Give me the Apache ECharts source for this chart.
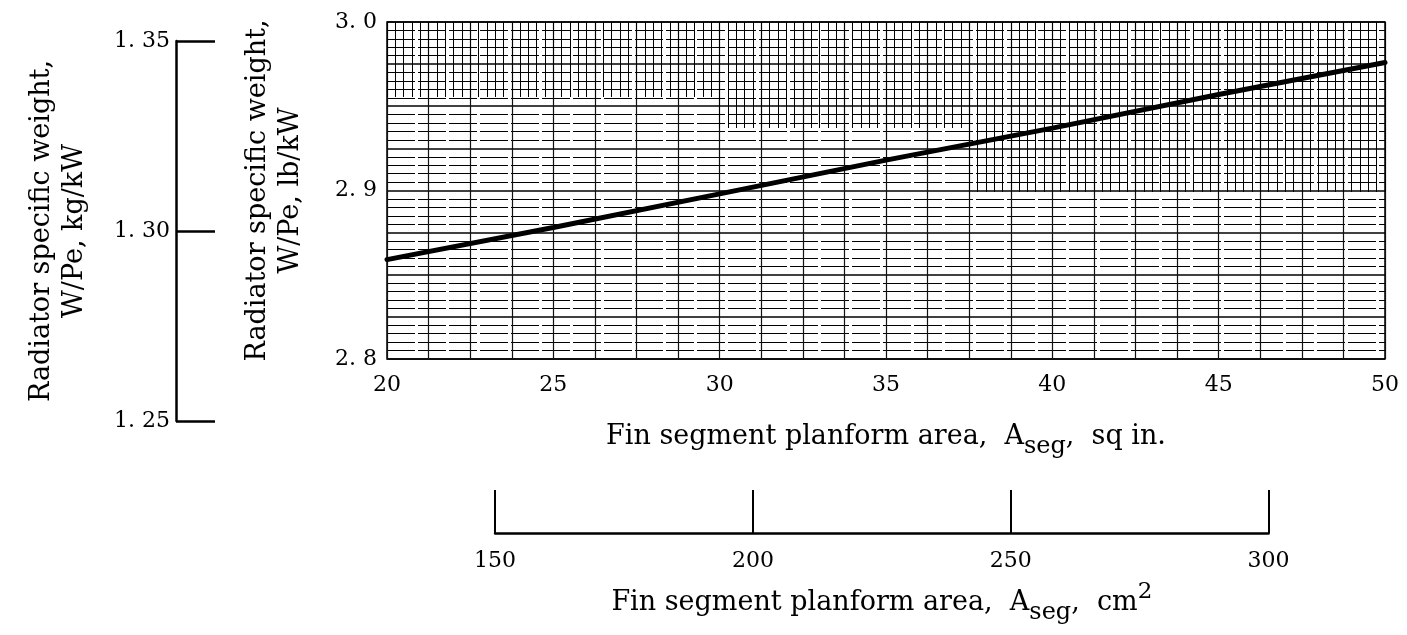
<!DOCTYPE html>
<html>
<head>
<meta charset="utf-8">
<script src="https://cdn.jsdelivr.net/npm/echarts@6/dist/echarts.min.js"></script>
<style>
  html, body { margin: 0; padding: 0; background: #fff; }
  #chart { width: 1407px; height: 635px; }
</style>
</head>
<body>
<div id="chart"></div>
<script>
// Fin segment planform area (sq in.) vs radiator specific weight (lb/kW)
const sqIn = [20, 25, 30, 35, 40, 45, 50];
const lbPerKw = [2.859, 2.878, 2.898, 2.918, 2.937, 2.957, 2.976];

// Tick labels
const sqInTicks = [20, 25, 30, 35, 40, 45, 50];
const lbTicks = [2.8, 2.9, 3.0];
const kgTicks = [1.25, 1.30, 1.35];
const cm2Ticks = [150, 200, 250, 300];

const FONT = 'DejaVu Serif';
const INK = '#000';
const CM2_PER_SQIN = 6.4516;

// plot box of the main graph-paper area
const PLOT = { left: 387, top: 22, width: 998, height: 337 };
const X_MIN = 20, X_MAX = 50;
const xToPx = v => PLOT.left + (v - X_MIN) / (X_MAX - X_MIN) * PLOT.width;

const isTick = (list, v) => list.some(t => Math.abs(t - v) < 1e-6);
const spacedDecimal = (v, digits) => v.toFixed(digits).replace('.', '. ');

// regions of the paper where the fine vertical rulings are printed: start (sq in.), depth (px)
const paperBands = [[20, 75], [30, 106], [37.5, 170]];

const cm2Left = xToPx(cm2Ticks[0] / CM2_PER_SQIN);
const cm2Right = xToPx(cm2Ticks[cm2Ticks.length - 1] / CM2_PER_SQIN);

const grids = [
  { left: PLOT.left, top: PLOT.top, width: PLOT.width, height: PLOT.height,
    show: true, borderColor: INK, borderWidth: 1.5, backgroundColor: 'transparent' }
];
paperBands.forEach(b => grids.push({
  left: xToPx(b[0]), top: PLOT.top, width: PLOT.left + PLOT.width - xToPx(b[0]), height: b[1]
}));
const KG_GRID = grids.length;
grids.push({ left: 176, top: 41, width: 39, height: 380 });
const CM_GRID = grids.length;
grids.push({ left: cm2Left, top: 480, width: cm2Right - cm2Left, height: 53 });

const labelStyle = { fontFamily: FONT, fontSize: 22, color: INK };
const yTitleStyle = { fontFamily: FONT, fontSize: 27, color: INK, lineHeight: 33 };
const xTitleRich = {
  t: { fontFamily: FONT, fontSize: 27, color: INK, lineHeight: 44, verticalAlign: 'middle' },
  s: { fontFamily: FONT, fontSize: 24, color: INK, lineHeight: 14, verticalAlign: 'bottom' },
  p: { fontFamily: FONT, fontSize: 23, color: INK, lineHeight: 26, verticalAlign: 'top' }
};

const xAxes = [{
  type: 'value', gridIndex: 0, min: X_MIN, max: X_MAX, interval: 1.25,
  axisLine: { show: false }, axisTick: { show: false },
  axisLabel: Object.assign({ margin: 15, formatter: v => isTick(sqInTicks, v) ? String(v) : '' }, labelStyle),
  splitLine: { show: true, lineStyle: { color: '#111', width: 1.2 } },
  name: '{t|Fin segment planform area,  A}{s|seg}{t|,  sq in.}',
  nameLocation: 'middle', nameGap: 56,
  nameTextStyle: { rich: xTitleRich }
}];
const yAxes = [{
  type: 'value', gridIndex: 0, min: 2.8, max: 3.0, interval: 0.025,
  axisLine: { show: false }, axisTick: { show: false },
  axisLabel: Object.assign({ margin: 10, formatter: v => isTick(lbTicks, v) ? spacedDecimal(v, 1) : '' }, labelStyle),
  splitLine: { show: true, lineStyle: { color: INK, width: 1.6 } },
  minorTick: { show: false, splitNumber: 5 },
  minorSplitLine: { show: true, lineStyle: { color: INK, width: 1, type: [28, 3] } },
  name: 'Radiator specific weight,\nW/Pe, lb/kW',
  nameLocation: 'middle', nameRotate: 90, nameGap: 79.5,
  nameTextStyle: yTitleStyle
}];

paperBands.forEach((b, i) => {
  xAxes.push({
    type: 'value', gridIndex: i + 1, min: b[0], max: X_MAX, interval: 0.25,
    axisLine: { show: false }, axisTick: { show: false }, axisLabel: { show: false },
    splitLine: { show: true, lineStyle: { color: INK, width: 1 } }
  });
  yAxes.push({ type: 'value', gridIndex: i + 1, min: 0, max: 1, show: false });
});

// kg/kW scale
xAxes.push({ type: 'value', gridIndex: KG_GRID, show: false, min: 0, max: 1 });
yAxes.push({
  type: 'value', gridIndex: KG_GRID, position: 'left',
  min: kgTicks[0], max: kgTicks[kgTicks.length - 1], interval: 0.05,
  axisLine: { show: true, lineStyle: { color: INK, width: 2.5 } },
  axisTick: { show: true, inside: true, length: 39, lineStyle: { color: INK, width: 2.5 } },
  axisLabel: Object.assign({ margin: 6, formatter: v => isTick(kgTicks, v) ? spacedDecimal(v, 2) : '' }, labelStyle),
  splitLine: { show: false },
  name: 'Radiator specific weight,\nW/Pe, kg/kW',
  nameLocation: 'middle', nameRotate: 90, nameGap: 84.5,
  nameTextStyle: yTitleStyle
});

// cm^2 scale
xAxes.push({
  type: 'value', gridIndex: CM_GRID, position: 'bottom',
  min: cm2Ticks[0], max: cm2Ticks[cm2Ticks.length - 1], interval: 50,
  axisLine: { show: true, lineStyle: { color: INK, width: 2.5 } },
  axisTick: { show: true, inside: true, length: 43, lineStyle: { color: INK, width: 2 } },
  axisLabel: Object.assign({ margin: 17, formatter: v => isTick(cm2Ticks, v) ? String(v) : '' }, labelStyle),
  splitLine: { show: false },
  name: '{t|Fin segment planform area,  A}{s|seg}{t|,  cm}{p|2}',
  nameLocation: 'middle', nameGap: 48,
  nameTextStyle: { rich: xTitleRich }
});
yAxes.push({ type: 'value', gridIndex: CM_GRID, show: false, min: 0, max: 1 });

const chart = echarts.init(document.getElementById('chart'), null, { renderer: 'canvas' });
chart.setOption({
  animation: false,
  backgroundColor: '#fff',
  grid: grids,
  xAxis: xAxes,
  yAxis: yAxes,
  series: [{
    type: 'line', xAxisIndex: 0, yAxisIndex: 0,
    data: sqIn.map((x, i) => [x, lbPerKw[i]]),
    symbol: 'none', z: 10, silent: true,
    lineStyle: { color: INK, width: 5, cap: 'round' }
  }]
});
</script>
</body>
</html>
